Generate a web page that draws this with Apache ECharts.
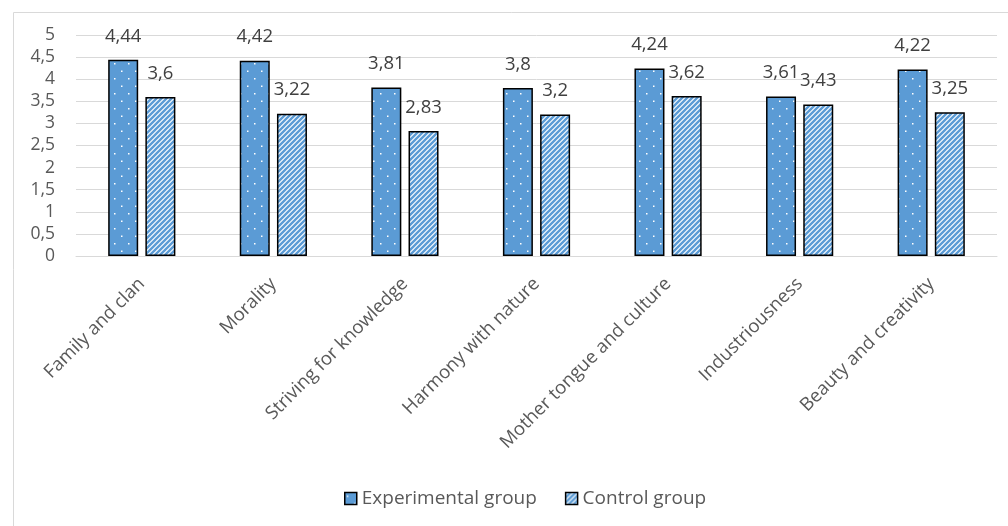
<!DOCTYPE html>
<html>
<head>
<meta charset="utf-8">
<script src="https://cdn.jsdelivr.net/npm/echarts@6/dist/echarts.min.js"></script>
<style>
html,body{margin:0;padding:0;background:#fff;}
#chart{width:1008px;height:526px;}
</style>
</head>
<body>
<div id="chart"></div>
<script>
var categories = ['Family and clan', 'Morality', 'Striving for knowledge', 'Harmony with nature', 'Mother tongue and culture', 'Industriousness', 'Beauty and creativity'];
var experimental = [4.44, 4.42, 3.81, 3.8, 4.24, 3.61, 4.22];
var control = [3.6, 3.22, 2.83, 3.2, 3.62, 3.43, 3.25];
var seriesNames = ['Experimental group', 'Control group'];

function dotPattern() {
  var c = document.createElement('canvas');
  c.width = 14; c.height = 15;
  var g = c.getContext('2d');
  g.fillStyle = '#5B9BD5';
  g.fillRect(0, 0, 14, 15);
  g.fillStyle = '#ffffff';
  g.fillRect(2, 3, 1.5, 1.5);
  g.fillRect(9, 10.5, 1.5, 1.5);
  return c;
}
function stripePattern() {
  var s = 5;
  var c = document.createElement('canvas');
  c.width = s; c.height = s;
  var g = c.getContext('2d');
  g.fillStyle = '#ffffff';
  g.fillRect(0, 0, s, s);
  g.strokeStyle = '#5B9BD5';
  g.lineWidth = 2.4;
  g.beginPath();
  g.moveTo(-1, s + 1); g.lineTo(s + 1, -1);
  g.moveTo(-1, 1); g.lineTo(1, -1);
  g.moveTo(s - 1, s + 1); g.lineTo(s + 1, s - 1);
  g.stroke();
  return c;
}
var dots = {image: dotPattern(), repeat: 'repeat'};
var stripes = {image: stripePattern(), repeat: 'repeat'};

function comma(v) { return String(v).replace('.', ','); }

var font = '"Open Sans", "Noto Sans", sans-serif';
var chart = echarts.init(document.getElementById('chart'), null, {renderer: 'canvas'});
chart.setOption({
  animation: false,
  textStyle: {fontFamily: font},
  graphic: [{
    type: 'rect', left: 11, top: 10,
    shape: {width: 1100, height: 600},
    style: {fill: 'none', stroke: '#d9d9d9', lineWidth: 1},
    silent: true
  }],
  grid: {left: 76, right: 11, top: 35, bottom: 270, containLabel: false},
  legend: {
    bottom: 13, left: 339,
    icon: 'rect',
    itemWidth: 12, itemHeight: 12, itemGap: 28,
    textStyle: {color: '#595959', fontSize: 19, fontFamily: font},
    data: [
      {name: seriesNames[0], itemStyle: {color: dots, borderColor: '#000', borderWidth: 1.5}},
      {name: seriesNames[1], itemStyle: {color: stripes, borderColor: '#000', borderWidth: 1.5}}
    ]
  },
  xAxis: {
    type: 'category', data: categories,
    axisLine: {show: true, lineStyle: {color: '#d9d9d9'}},
    axisTick: {show: false},
    axisLabel: {rotate: 45, interval: 0, color: '#595959', fontSize: 18.5, margin: 25, fontFamily: font}
  },
  yAxis: {
    type: 'value', min: 0, max: 5, interval: 0.5,
    axisLine: {show: false}, axisTick: {show: false},
    splitLine: {lineStyle: {color: '#d9d9d9'}},
    axisLabel: {color: '#595959', fontSize: 17.5, margin: 21, formatter: comma, fontFamily: font}
  },
  series: [{
    name: seriesNames[0], type: 'bar', data: experimental,
    barWidth: 30, barGap: '24%',
    itemStyle: {color: dots, borderColor: '#000', borderWidth: 1.5},
    label: {show: true, position: 'top', distance: 14, color: '#404040', fontSize: 18.5, formatter: function(p){return comma(p.value);}}
  }, {
    name: seriesNames[1], type: 'bar', data: control,
    barWidth: 30,
    itemStyle: {color: stripes, borderColor: '#000', borderWidth: 1.5},
    label: {show: true, position: 'top', distance: 14, color: '#404040', fontSize: 18.5, formatter: function(p){return comma(p.value);}}
  }]
});
</script>
</body>
</html>
